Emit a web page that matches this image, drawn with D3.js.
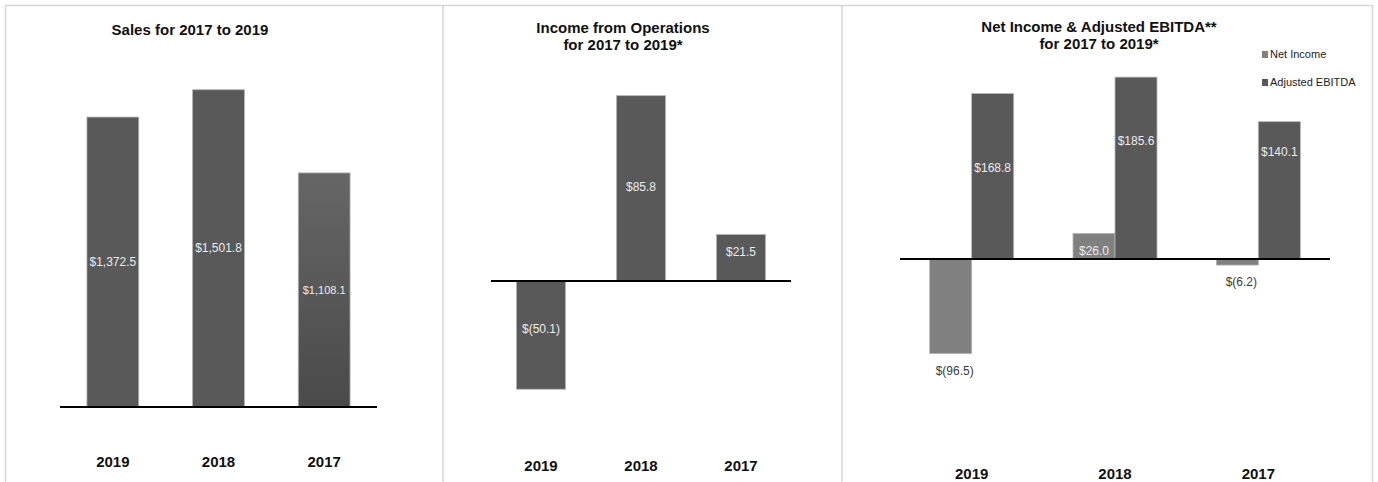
<!DOCTYPE html>
<html>
<head>
<meta charset="utf-8">
<script src="https://cdn.jsdelivr.net/npm/d3@7"></script>
<style>
  body { margin: 0; background: #fff; }
  svg { display: block; font-family: "Liberation Sans", Arial, sans-serif; }
</style>
</head>
<body>
<svg id="chart" width="1378" height="482"></svg>
<script>
// ---- data ----
var years = ["2019", "2018", "2017"];
var sales = [1372.5, 1501.8, 1108.1];
var incomeOps = [-50.1, 85.8, 21.5];
var netIncome = [-96.5, 26.0, -6.2];
var adjEbitda = [168.8, 185.6, 140.1];
var seriesNames = ["Net Income", "Adjusted EBITDA"];

var dark = "#595959", light = "#808080", edge = "#b3b3b3";

var svg = d3.select("#chart");

var defs = svg.append("defs");
var grad = defs.append("linearGradient").attr("id", "fade")
    .attr("x1", 0).attr("y1", 0).attr("x2", 0).attr("y2", 1);
grad.append("stop").attr("offset", "0%").attr("stop-color", "#666");
grad.append("stop").attr("offset", "100%").attr("stop-color", "#4a4a4a");

// frame + separators
svg.append("rect")
    .attr("x", 5.5).attr("y", 5.5).attr("width", 1367).attr("height", 500)
    .attr("fill", "none").attr("stroke", "#d6d6d6").attr("stroke-width", 1.5);
[443, 842].forEach(function(x) {
  svg.append("line").attr("x1", x).attr("x2", x).attr("y1", 5).attr("y2", 482)
      .attr("stroke", "#d6d6d6").attr("stroke-width", 1.5);
});

function fmt(v) {
  var s = d3.format(",.1f")(Math.abs(v));
  return v < 0 ? "$(" + s + ")" : "$" + s;
}

function title(lines, cx, y0) {
  var t = svg.append("text")
      .attr("text-anchor", "middle")
      .attr("font-size", 15).attr("font-weight", "bold").attr("fill", "#111");
  lines.forEach(function(l, i) {
    t.append("tspan").attr("x", cx).attr("y", y0 + i * 17).text(l);
  });
}

function yearLabels(x, yPos) {
  svg.append("g").selectAll("text")
    .data(years).enter().append("text")
      .attr("x", function(d) { return x(d) + x.bandwidth() / 2; })
      .attr("y", yPos)
      .attr("text-anchor", "middle")
      .attr("font-size", 15).attr("font-weight", "bold").attr("fill", "#111")
      .text(function(d) { return d; });
}

function baseline(x, y) {
  svg.append("line")
      .attr("x1", x.range()[0]).attr("x2", x.range()[1])
      .attr("y1", y(0)).attr("y2", y(0))
      .attr("stroke", "#000").attr("stroke-width", 2);
}

// ---- panel 1: sales ----
(function() {
  var x = d3.scaleBand().domain(years).range([60, 377]);
  var y = d3.scaleLinear().domain([0, 1600]).range([407, 69]);
  var bw = x.bandwidth() * 0.49;
  var data = years.map(function(d, i) { return {year: d, v: sales[i], i: i}; });

  title(["Sales for 2017 to 2019"], 190, 35);

  svg.append("g").selectAll("rect")
    .data(data).enter().append("rect")
      .attr("x", function(d) { return x(d.year) + (x.bandwidth() - bw) / 2; })
      .attr("y", function(d) { return y(d.v); })
      .attr("width", bw)
      .attr("height", function(d) { return y(0) - y(d.v); })
      .attr("fill", function(d) { return d.i === 2 ? "url(#fade)" : dark; })
      .attr("stroke", edge).attr("stroke-width", 0.8);

  svg.append("g").selectAll("text")
    .data(data).enter().append("text")
      .attr("x", function(d) { return x(d.year) + x.bandwidth() / 2; })
      .attr("y", function(d) { return y(d.v / 2) + 4; })
      .attr("text-anchor", "middle")
      .attr("font-size", d3.max([12])).attr("fill", "#ececec")
      .attr("font-size", function(d) { return d.i === 2 ? 11 : 12; })
      .text(function(d) { return fmt(d.v); });

  baseline(x, y);
  yearLabels(x, 467);
})();

// ---- panel 2: income from operations ----
(function() {
  var x = d3.scaleBand().domain(years).range([491, 791]);
  var y = d3.scaleLinear().domain([-100, 100]).range([497, 65]);
  var bw = x.bandwidth() * 0.49;
  var data = years.map(function(d, i) { return {year: d, v: incomeOps[i]}; });

  title(["Income from Operations", "for 2017 to 2019*"], 623, 33);

  svg.append("g").selectAll("rect")
    .data(data).enter().append("rect")
      .attr("x", function(d) { return x(d.year) + (x.bandwidth() - bw) / 2; })
      .attr("y", function(d) { return y(Math.max(0, d.v)); })
      .attr("width", bw)
      .attr("height", function(d) { return Math.abs(y(d.v) - y(0)); })
      .attr("fill", dark)
      .attr("stroke", edge).attr("stroke-width", 0.8);

  svg.append("g").selectAll("text")
    .data(data).enter().append("text")
      .attr("x", function(d) { return x(d.year) + x.bandwidth() / 2; })
      .attr("y", function(d) {
        // labels sit a little above the bar centre
        return y(d.v / 2) + 4 - (Math.abs(d.v) < 60 ? 6 : 1);
      })
      .attr("text-anchor", "middle")
      .attr("font-size", 12).attr("fill", "#ececec")
      .text(function(d) { return fmt(d.v); });

  baseline(x, y);
  yearLabels(x, 471);
})();

// ---- panel 3: net income & adjusted EBITDA ----
(function() {
  var x = d3.scaleBand().domain(years).range([900, 1330]);
  var sub = d3.scaleBand().domain(seriesNames)
      .range([x.bandwidth() / 2 - 42, x.bandwidth() / 2 + 42]);
  var y = d3.scaleLinear().domain([-200, 200]).range([455, 63]);
  var color = d3.scaleOrdinal().domain(seriesNames).range([light, dark]);

  // where each in-bar label sits, as a share of the bar height
  var ebitdaLabelAt = [0.55, 0.65, 0.78];

  var data = [];
  years.forEach(function(d, i) {
    data.push({year: d, s: seriesNames[0], v: netIncome[i], i: i});
    data.push({year: d, s: seriesNames[1], v: adjEbitda[i], i: i});
  });

  title(["Net Income & Adjusted EBITDA**", "for 2017 to 2019*"], 1099, 32);

  svg.append("g").selectAll("rect")
    .data(data).enter().append("rect")
      .attr("x", function(d) { return x(d.year) + sub(d.s); })
      .attr("y", function(d) { return y(Math.max(0, d.v)); })
      .attr("width", sub.bandwidth())
      .attr("height", function(d) { return Math.abs(y(d.v) - y(0)); })
      .attr("fill", function(d) { return color(d.s); })
      .attr("stroke", edge).attr("stroke-width", 0.8);

  svg.append("g").selectAll("text")
    .data(data).enter().append("text")
      .attr("x", function(d) { return x(d.year) + sub(d.s) + sub.bandwidth() / 2 + (d.v < 0 ? 4 : 0); })
      .attr("y", function(d) {
        if (d.v < 0) return y(d.v) + 21;
        if (d.s === seriesNames[0]) return y(d.v * 0.31) + 4;
        return y(d.v * ebitdaLabelAt[d.i]) + 4;
      })
      .attr("text-anchor", "middle")
      .attr("font-size", 12)
      .attr("fill", function(d) { return d.v < 0 ? "#3a3a3a" : "#ececec"; })
      .text(function(d) { return fmt(d.v); });

  baseline(x, y);
  yearLabels(x, 479);

  var legend = svg.append("g").selectAll("g")
    .data(seriesNames).enter().append("g")
      .attr("transform", function(d, i) { return "translate(1262," + (58 + i * 28) + ")"; });
  legend.append("rect")
      .attr("x", 0).attr("y", -7).attr("width", 6).attr("height", 7)
      .attr("fill", function(d) { return color(d); });
  legend.append("text")
      .attr("x", 8).attr("y", 0)
      .attr("font-size", 11).attr("fill", "#222")
      .text(function(d) { return d; });
})();
</script>
</body>
</html>
